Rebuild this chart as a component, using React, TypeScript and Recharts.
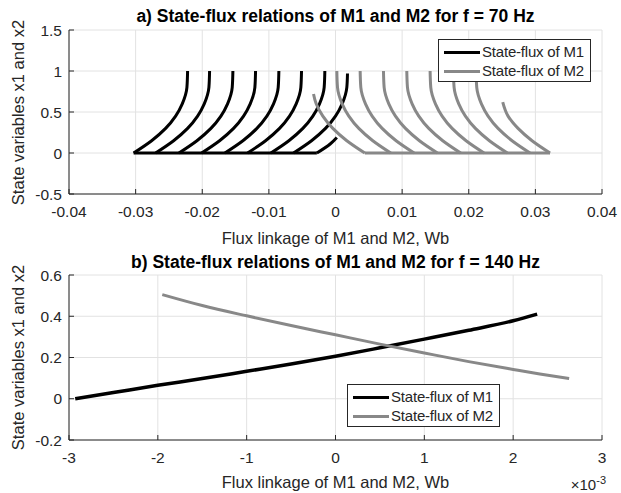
import React from "react";
import { LineChart, Line, XAxis, YAxis, CartesianGrid } from "recharts";

type P = [number, number];

// ---------- Panel a (f = 70 Hz) ----------
const aXTicks = [-0.04, -0.03, -0.02, -0.01, 0, 0.01, 0.02, 0.03, 0.04];
const aYTicks = [-0.5, 0, 0.5, 1, 1.5];

// M1 branches, listed from state 0 upwards
const m1Base: P[] = [[-0.0303, 0], [-0.0028, 0]];
const m1Arc1: P[] = [[-0.0303, 0], [-0.0276, 0.15], [-0.0255, 0.3], [-0.024, 0.45], [-0.023, 0.6], [-0.0223, 0.8], [-0.0222, 1]];
const m1Arc2: P[] = [[-0.027, 0], [-0.0243, 0.15], [-0.0222, 0.3], [-0.0207, 0.45], [-0.0197, 0.6], [-0.019, 0.8], [-0.0189, 1]];
const m1Arc3: P[] = [[-0.0235, 0], [-0.0208, 0.15], [-0.0187, 0.3], [-0.0172, 0.45], [-0.0162, 0.6], [-0.0155, 0.8], [-0.0154, 1]];
const m1Arc4: P[] = [[-0.0201, 0], [-0.0174, 0.15], [-0.0153, 0.3], [-0.0138, 0.45], [-0.0128, 0.6], [-0.0121, 0.8], [-0.012, 1]];
const m1Arc5: P[] = [[-0.0166, 0], [-0.0139, 0.15], [-0.0118, 0.3], [-0.0103, 0.45], [-0.0093, 0.6], [-0.0086, 0.8], [-0.0085, 1]];
const m1Arc6: P[] = [[-0.0132, 0], [-0.0105, 0.15], [-0.0084, 0.3], [-0.0069, 0.45], [-0.0059, 0.6], [-0.0052, 0.8], [-0.0051, 1]];
const m1Arc7: P[] = [[-0.0097, 0], [-0.007, 0.15], [-0.0049, 0.3], [-0.0034, 0.45], [-0.0024, 0.6], [-0.0017, 0.8], [-0.0016, 1]];
const m1Arc8: P[] = [[-0.0063, 0], [-0.0036, 0.15], [-0.0015, 0.3], [0.0, 0.45], [0.001, 0.6], [0.0017, 0.8], [0.0018, 0.97]];
const m1Arc9: P[] = [[-0.0028, 0], [-0.0008, 0.11], [0.0002, 0.19]];

// M2 branches, listed from state 0 upwards
const m2Base: P[] = [[0.0044, 0], [0.0322, 0]];
const m2Arc0: P[] = [[0.0044, 0], [0.0017, 0.15], [-0.0004, 0.3], [-0.0019, 0.45], [-0.0029, 0.6], [-0.0033, 0.72]];
const m2Arc1: P[] = [[0.0083, 0], [0.0056, 0.15], [0.0035, 0.3], [0.002, 0.45], [0.001, 0.6], [0.0003, 0.8], [0.0002, 1]];
const m2Arc2: P[] = [[0.0118, 0], [0.0091, 0.15], [0.007, 0.3], [0.0055, 0.45], [0.0045, 0.6], [0.0038, 0.8], [0.0037, 1]];
const m2Arc3: P[] = [[0.0153, 0], [0.0126, 0.15], [0.0105, 0.3], [0.009, 0.45], [0.008, 0.6], [0.0073, 0.8], [0.0072, 1]];
const m2Arc4: P[] = [[0.0188, 0], [0.0161, 0.15], [0.014, 0.3], [0.0125, 0.45], [0.0115, 0.6], [0.0108, 0.8], [0.0107, 1]];
const m2Arc5: P[] = [[0.0223, 0], [0.0196, 0.15], [0.0175, 0.3], [0.016, 0.45], [0.015, 0.6], [0.0143, 0.8], [0.0142, 1]];
const m2Arc6: P[] = [[0.0258, 0], [0.0231, 0.15], [0.021, 0.3], [0.0195, 0.45], [0.0185, 0.6], [0.0178, 0.8], [0.0177, 1]];
const m2Arc7: P[] = [[0.0292, 0], [0.0265, 0.15], [0.0244, 0.3], [0.0229, 0.45], [0.0219, 0.6], [0.0212, 0.8], [0.0211, 1]];
const m2Arc8: P[] = [[0.0322, 0], [0.0295, 0.15], [0.0274, 0.3], [0.0259, 0.45], [0.0251, 0.62]];

// ---------- Panel b (f = 140 Hz), x in units of 1e-3 Wb ----------
const bXTicks = [-3, -2, -1, 0, 1, 2, 3];
const bYTicks = [-0.2, 0, 0.2, 0.4, 0.6];
const bM1: P[] = [[-2.93, 0], [-2.5, 0.03], [-2, 0.065], [-1.5, 0.098], [-1, 0.133], [-0.5, 0.168], [0, 0.206], [0.5, 0.247], [1, 0.289], [1.5, 0.332], [2, 0.378], [2.27, 0.41]];
const bM2: P[] = [[-1.95, 0.505], [-1.5, 0.452], [-1, 0.402], [-0.5, 0.355], [0, 0.31], [0.5, 0.265], [1, 0.222], [1.5, 0.18], [2, 0.142], [2.3, 0.12], [2.63, 0.098]];

const titleA = "a) State-flux relations of M1 and M2 for f = 70 Hz";
const titleB = "b) State-flux relations of M1 and M2 for f = 140 Hz";
const xLabel = "Flux linkage of M1 and M2, Wb";
const yLabel = "State variables x1 and x2";
const legendNames = ["State-flux of M1", "State-flux of M2"];

const BLACK = "#000000";
const GRAY = "#888888";
const AXIS = "#262626";
const FONT = "'Liberation Sans', Arial, Helvetica, sans-serif";

type Curve = "monotoneY" | "monotone" | "linear";
type Series = { pts: P[]; color: string; width: number; curve: Curve };

const aSeries: Series[] = [
  { pts: m1Base, color: BLACK, width: 3, curve: "linear" },
  ...[m1Arc1, m1Arc2, m1Arc3, m1Arc4, m1Arc5, m1Arc6, m1Arc7, m1Arc8, m1Arc9].map(
    (pts) => ({ pts, color: BLACK, width: 3, curve: "monotoneY" as Curve })
  ),
  { pts: m2Base, color: GRAY, width: 3, curve: "linear" },
  ...[m2Arc0, m2Arc1, m2Arc2, m2Arc3, m2Arc4, m2Arc5, m2Arc6, m2Arc7, m2Arc8].map(
    (pts) => ({ pts, color: GRAY, width: 3, curve: "monotoneY" as Curve })
  ),
];

const bSeries: Series[] = [
  { pts: bM1, color: BLACK, width: 3.5, curve: "monotone" },
  { pts: bM2, color: GRAY, width: 3, curve: "monotone" },
];

const toRows = (pts: P[]) => pts.map(([x, y]) => ({ x, y }));

type PanelProps = {
  top: number;
  height: number;
  marginTop: number;
  xAxisHeight: number;
  xTicks: number[];
  yTicks: number[];
  series: Series[];
};

const TICK_FS = 15.5;

const Panel = ({ top, height, marginTop, xAxisHeight, xTicks, yTicks, series }: PanelProps) => {
  const xDom: [number, number] = [xTicks[0], xTicks[xTicks.length - 1]];
  const yDom: [number, number] = [yTicks[0], yTicks[yTicks.length - 1]];
  return (
    <div style={{ position: "absolute", left: 0, top, width: 621, height }}>
      <LineChart
        width={621}
        height={height}
        margin={{ top: marginTop, right: 19, bottom: 0, left: 0 }}
      >
        <CartesianGrid xAxisId="b" yAxisId="l" stroke="#e2e2e2" strokeWidth={1} />
        <XAxis
          xAxisId="b"
          type="number"
          dataKey="x"
          domain={xDom}
          ticks={xTicks}
          interval={0}
          allowDataOverflow
          height={xAxisHeight}
          stroke={AXIS}
          tickSize={-5}
          tickMargin={17}
          tick={{ fill: AXIS, fontSize: TICK_FS, fontFamily: FONT }}
        />
        <XAxis
          xAxisId="t"
          orientation="top"
          type="number"
          dataKey="x"
          domain={xDom}
          ticks={xTicks}
          interval={0}
          allowDataOverflow
          height={0}
          stroke={AXIS}
          tickSize={-5}
          tick={false}
        />
        <YAxis
          yAxisId="l"
          type="number"
          domain={yDom}
          ticks={yTicks}
          interval={0}
          allowDataOverflow
          width={69}
          stroke={AXIS}
          tickSize={-5}
          tickMargin={12}
          tick={{ fill: AXIS, fontSize: TICK_FS, fontFamily: FONT }}
        />
        <YAxis
          yAxisId="r"
          orientation="right"
          type="number"
          domain={yDom}
          ticks={yTicks}
          interval={0}
          allowDataOverflow
          width={0}
          stroke={AXIS}
          tickSize={-5}
          tick={false}
        />
        {series.map((s, i) => (
          <Line
            key={i}
            xAxisId="b"
            yAxisId="l"
            data={toRows(s.pts)}
            dataKey="y"
            type={s.curve}
            stroke={s.color}
            strokeWidth={s.width}
            dot={false}
            activeDot={false}
            isAnimationActive={false}
          />
        ))}
      </LineChart>
    </div>
  );
};

const Legend = ({ left, top }: { left: number; top: number }) => (
  <div
    style={{
      position: "absolute",
      left,
      top,
      width: 153,
      height: 43,
      boxSizing: "border-box",
      background: "#fff",
      border: `1px solid ${AXIS}`,
      fontFamily: FONT,
      fontSize: 15,
      color: AXIS,
    }}
  >
    {legendNames.map((name, i) => (
      <div key={name} style={{ position: "absolute", left: 0, top: 12 + i * 19 - 9, height: 18, width: 151 }}>
        <div
          style={{
            position: "absolute",
            left: 5,
            top: 7.5,
            width: 36,
            height: 3,
            background: i === 0 ? BLACK : GRAY,
          }}
        />
        <div style={{ position: "absolute", left: 43, top: 0, lineHeight: "18px", whiteSpace: "nowrap", letterSpacing: "-0.2px" }}>
          {name}
        </div>
      </div>
    ))}
  </div>
);

const textBase: React.CSSProperties = {
  position: "absolute",
  fontFamily: FONT,
  color: AXIS,
  whiteSpace: "nowrap",
};

const Title = ({ text, cy }: { text: string; cy: number }) => (
  <div
    style={{
      ...textBase,
      left: 69,
      width: 533,
      top: cy - 9,
      lineHeight: "18px",
      fontSize: 17.5,
      fontWeight: "bold",
      textAlign: "center",
      color: "#000",
    }}
  >
    {text}
  </div>
);

const XLabel = ({ cy }: { cy: number }) => (
  <div
    style={{
      ...textBase,
      left: 69,
      width: 533,
      top: cy - 8.5,
      lineHeight: "17px",
      fontSize: 16.5,
      textAlign: "center",
    }}
  >
    {xLabel}
  </div>
);

const YLabel = ({ cy }: { cy: number }) => (
  <div
    style={{
      ...textBase,
      left: 18 - 110,
      top: cy - 8.5,
      width: 220,
      lineHeight: "17px",
      fontSize: 16.5,
      textAlign: "center",
      transform: "rotate(-90deg)",
    }}
  >
    {yLabel}
  </div>
);

export default function App() {
  return (
    <div
      style={{
        position: "absolute",
        left: 0,
        top: 0,
        width: 621,
        height: 493,
        background: "#fff",
        overflow: "hidden",
      }}
    >
      <Panel top={0} height={246} marginTop={30} xAxisHeight={52} xTicks={aXTicks} yTicks={aYTicks} series={aSeries} />
      <Panel top={246} height={247} marginTop={29} xAxisHeight={53} xTicks={bXTicks} yTicks={bYTicks} series={bSeries} />
      <Legend left={438} top={39} />
      <Legend left={347} top={384} />
      <Title text={titleA} cy={16} />
      <Title text={titleB} cy={262} />
      <XLabel cy={238} />
      <XLabel cy={482} />
      <YLabel cy={112} />
      <YLabel cy={357.5} />
      <div style={{ ...textBase, right: 15, top: 477, fontSize: 15, lineHeight: "16px" }}>
        ×10<sup style={{ fontSize: 11, verticalAlign: "6px", lineHeight: 0 }}>-3</sup>
      </div>
    </div>
  );
}
